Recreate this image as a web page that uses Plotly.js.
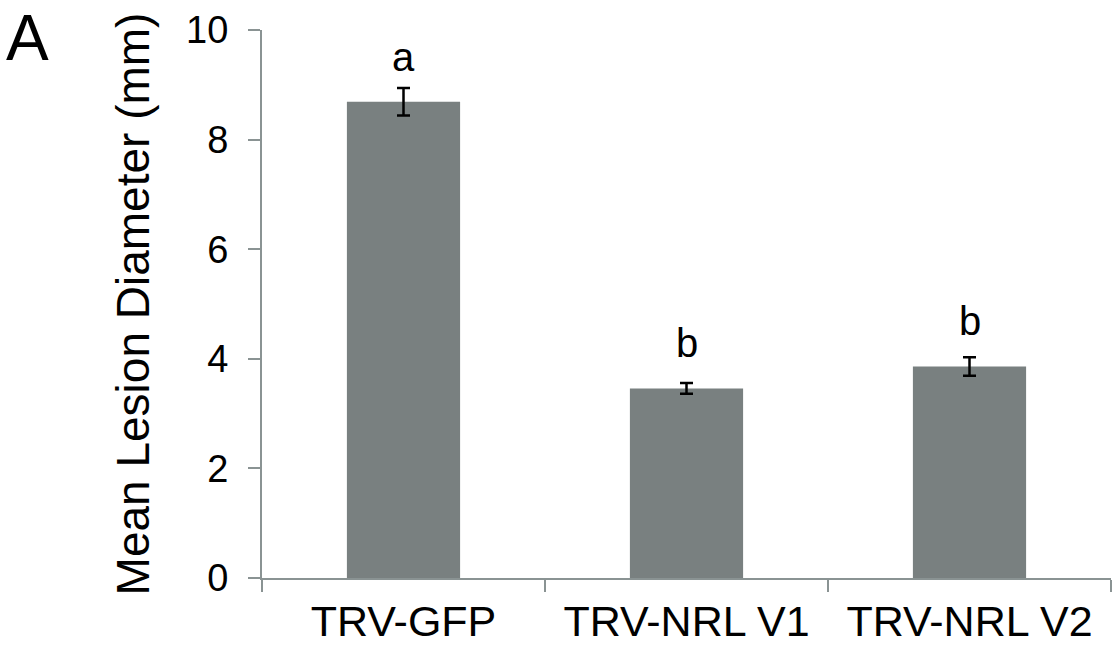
<!DOCTYPE html>
<html>
<head>
<meta charset="utf-8">
<script src="https://cdn.plot.ly/plotly-3.0.1.min.js"></script>
<style>html,body{margin:0;padding:0;background:#fff;}#chart{width:1114px;height:647px;}</style>
</head>
<body>
<div id="chart"></div>
<script>
var categories = ["TRV-GFP", "TRV-NRL V1", "TRV-NRL V2"];
var meanDiameter = [8.69, 3.46, 3.86];
var stdError = [0.25, 0.10, 0.17];
var groupLetters = ["a", "b", "b"];
var yTicks = [0, 2, 4, 6, 8, 10];

var FONT = "Liberation Sans, Arial, sans-serif";
var AXIS_COLOR = "#8a9393";

var trace = {
  type: "bar",
  x: categories,
  y: meanDiameter,
  marker: {color: "#798080", line: {width: 0}},
  error_y: {type: "data", array: stdError, visible: true, color: "#000", thickness: 2.5, width: 6.5},
  hoverinfo: "none"
};

var annotations = categories.map(function(c, i) {
  return {
    x: c, y: meanDiameter[i], xref: "x", yref: "y",
    text: groupLetters[i], showarrow: false, yanchor: "bottom", yshift: 21,
    font: {family: FONT, size: 40, color: "#000"}
  };
});
annotations.push({
  x: 0, y: 1, xref: "paper", yref: "paper", xanchor: "left", yanchor: "top",
  xshift: -258, yshift: 30,
  text: "A", showarrow: false,
  font: {family: FONT, size: 64, color: "#000"}
});

var layout = {
  width: 1114, height: 647,
  margin: {l: 262, r: 3, t: 30, b: 69, pad: 0},
  paper_bgcolor: "#fff", plot_bgcolor: "#fff",
  showlegend: false,
  bargap: 0.6,
  xaxis: {
    type: "category", range: [-0.5, 2.5],
    showline: true, linecolor: AXIS_COLOR, linewidth: 2,
    ticks: "outside", tickson: "boundaries", ticklen: 12, tickwidth: 2, tickcolor: AXIS_COLOR,
    showgrid: false, zeroline: false,
    tickfont: {family: FONT, size: 43, color: "#000"},
    ticklabelstandoff: 4,
    automargin: false
  },
  yaxis: {
    range: [0, 10], tickvals: yTicks, ticktext: yTicks.map(String),
    showline: true, linecolor: AXIS_COLOR, linewidth: 2,
    ticks: "outside", ticklen: 12, tickwidth: 2, tickcolor: AXIS_COLOR,
    showgrid: false, zeroline: false,
    tickfont: {family: FONT, size: 38, color: "#000"},
    ticklabelstandoff: 12,
    title: {text: "Mean Lesion Diameter (mm)", font: {family: FONT, size: 46, color: "#000"}, standoff: 22},
    automargin: false
  },
  annotations: annotations
};

Plotly.newPlot("chart", [trace], layout, {displayModeBar: false, staticPlot: true});
</script>
</body>
</html>
